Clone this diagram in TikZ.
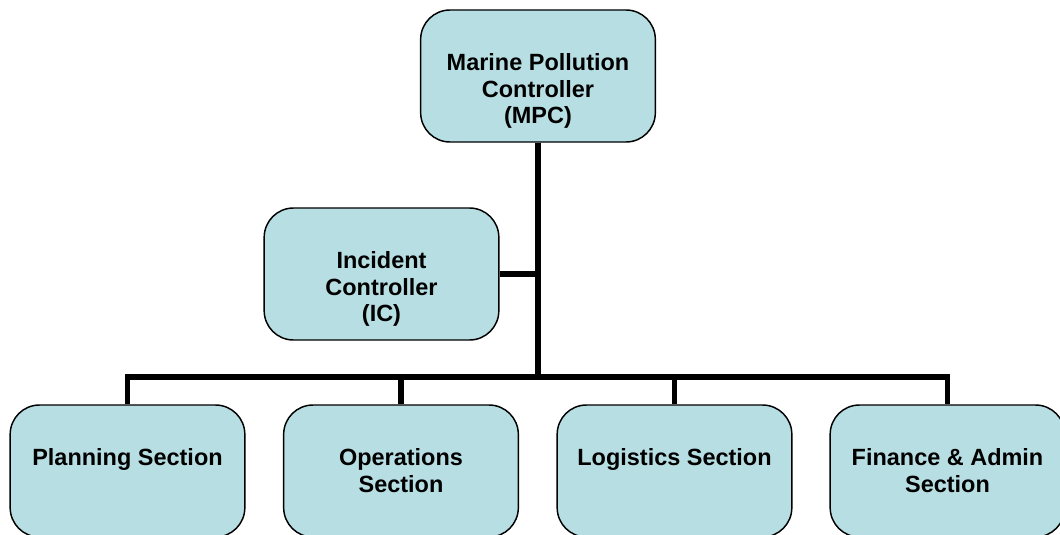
\documentclass[tikz,border=0pt]{standalone}
\usepackage{fontspec}
\setmainfont{Liberation Sans}
\usetikzlibrary{positioning}
\definecolor{boxfill}{RGB}{183,223,227}
\tikzset{
  unit/.style={draw=black, line width=1.1pt, fill=boxfill, rounded corners=22pt,
    minimum width=176pt, minimum height=99pt, inner sep=0pt},
  unittext/.style={anchor=north, align=center, inner sep=0pt,
    font=\fontsize{17.6pt}{20pt}\selectfont\bfseries},
  link/.style={line width=3.8pt},
}

\begin{document}
\begin{tikzpicture}[x=0.75pt,y=-0.75pt]
  \useasboundingbox (0,0) rectangle (1060,535);
  % boxes
  \node[unit] (mpc) at (538,76) {};
  \node[unit] (ic) at (381.5,274) {};
  \node[unit] (plan) at (127.5,471) {};
  \node[unit] (ops) at (401,471) {};
  \node[unit] (log) at (674.5,471) {};
  \node[unit] (fin) at (947.5,471) {};
  % texts
  \node[unittext, below=33pt of mpc.north] (mpctext) {Marine Pollution\\Controller\\(MPC)};
  \node[unittext, below=33pt of ic.north] (ictext) {Incident\\Controller\\(IC)};
  \node[unittext, below=33pt of plan.north] (plantext) {Planning Section};
  \node[unittext, below=33pt of ops.north] (opstext) {Operations\\Section};
  \node[unittext, below=33pt of log.north] (logtext) {Logistics Section};
  \node[unittext, below=33pt of fin.north] (fintext) {Finance \& Admin\\Section};
  % connectors
  \coordinate (bus) at (538,377);
  \draw[link] (mpc.south) -- (bus);
  \draw[link] (ic.east) -- (ic.east -| bus);
  \draw[link] (plan.north) -- (plan.north |- bus) -- (fin.north |- bus) -- (fin.north);
  \foreach \n in {ops,log}
    \draw[link] (\n.north) -- (\n.north |- bus);
\end{tikzpicture}
\end{document}
